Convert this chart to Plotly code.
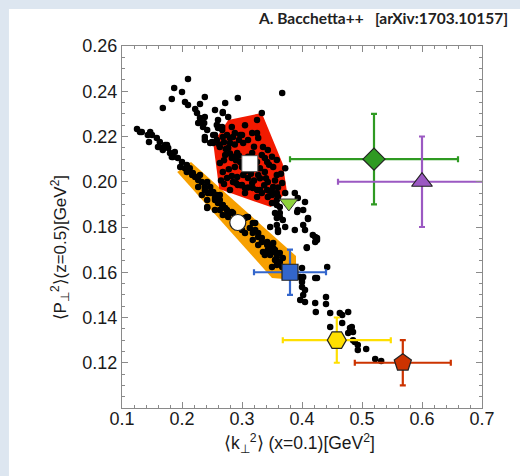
import plotly.graph_objects as go

# ---------------- data ----------------
scatter_x = [
    0.21, 0.187, 0.2, 0.183, 0.205, 0.21, 0.168, 0.238, 0.23, 0.222, 0.272, 0.293, 0.367, 0.255, 0.268,
    0.277, 0.23, 0.238, 0.227, 0.235, 0.26, 0.267, 0.26, 0.283, 0.275, 0.285, 0.297, 0.238, 0.25, 0.317,
    0.325, 0.23, 0.237, 0.242, 0.238, 0.247, 0.263, 0.225, 0.252,
    0.268, 0.258, 0.267, 0.255, 0.268, 0.252, 0.263, 0.28, 0.288, 0.3, 0.333, 0.327, 0.302, 0.277, 0.292,
    0.283, 0.272, 0.297, 0.288, 0.268, 0.263, 0.275, 0.292, 0.302, 0.31, 0.317, 0.327, 0.33, 0.338, 0.342,
    0.333, 0.343, 0.335, 0.358, 0.352, 0.343, 0.352, 0.358, 0.367, 0.372, 0.305, 0.318, 0.33, 0.325, 0.343,
    0.36, 0.35, 0.3, 0.285, 0.28, 0.317, 0.318, 0.308, 0.28, 0.325,
    0.293, 0.305, 0.325, 0.333, 0.342, 0.35, 0.358, 0.35, 0.363,
    0.358, 0.372, 0.388, 0.393, 0.405, 0.402, 0.392, 0.358, 0.363, 0.358, 0.368, 0.372, 0.388, 0.402, 0.405,
    0.41, 0.418, 0.425, 0.422, 0.408, 0.442, 0.36, 0.352, 0.355, 0.363, 0.368, 0.358, 0.372, 0.4, 0.402,
    0.425, 0.347, 0.393, 0.41, 0.422,
    0.227, 0.238, 0.247, 0.233, 0.242, 0.255, 0.263, 0.26, 0.268, 0.275, 0.268, 0.277, 0.285, 0.255, 0.242,
    0.305, 0.313, 0.322, 0.318, 0.327, 0.333, 0.342, 0.343, 0.352, 0.358, 0.355, 0.347, 0.363, 0.367, 0.35,
    0.335, 0.327, 0.318, 0.3, 0.305, 0.31, 0.358, 0.36, 0.355, 0.363,
    0.125, 0.133, 0.147, 0.15, 0.145, 0.158, 0.163, 0.16, 0.172, 0.168, 0.177, 0.18, 0.188, 0.185, 0.193,
    0.2, 0.197, 0.208, 0.213, 0.208, 0.218, 0.225, 0.23, 0.233, 0.242, 0.238, 0.247, 0.252, 0.243, 0.258,
    0.255, 0.263, 0.267, 0.272, 0.275, 0.283, 0.263, 0.308, 0.318, 0.322, 0.327, 0.333, 0.342, 0.347, 0.352,
    0.358, 0.338, 0.343, 0.242, 0.13, 0.143, 0.167, 0.175, 0.183, 0.205, 0.217, 0.222, 0.227, 0.25,
    0.388, 0.4, 0.397, 0.4, 0.4, 0.405, 0.402, 0.397, 0.405, 0.422, 0.44, 0.44, 0.423, 0.447, 0.463,
    0.477, 0.467, 0.467, 0.447, 0.48, 0.483, 0.485, 0.477, 0.485, 0.488, 0.493, 0.493, 0.507, 0.522, 0.532,
    0.408, 0.425, 0.422,
    0.258, 0.262, 0.27, 0.273, 0.28, 0.285, 0.29, 0.295, 0.3, 0.305, 0.31, 0.315, 0.32, 0.323, 0.33,
    0.337, 0.34, 0.345, 0.355, 0.36, 0.365, 0.27, 0.278, 0.283, 0.29, 0.298, 0.31, 0.265, 0.27, 0.345,
    0.35, 0.338, 0.32, 0.31, 0.295, 0.288, 0.325, 0.305,
]
scatter_y = [
    0.2454, 0.2414, 0.2397, 0.2366, 0.2352, 0.2339, 0.2326, 0.2375, 0.2344, 0.2322, 0.2348, 0.237, 0.2392, 0.2317, 0.2308,
    0.2286, 0.2282, 0.2286, 0.226, 0.2242, 0.2273, 0.2242, 0.2238, 0.2242, 0.2207, 0.2198, 0.2207, 0.2198, 0.2176, 0.2216,
    0.2273, 0.2264, 0.226, 0.2229, 0.2185, 0.2171, 0.2242, 0.2304, 0.2207,
    0.2304, 0.2251, 0.2229, 0.2207, 0.2198, 0.2171, 0.2154, 0.2193, 0.2216, 0.2207, 0.2304, 0.2193, 0.2171, 0.2149, 0.2127,
    0.2105, 0.2118, 0.2087, 0.2065, 0.2043, 0.2083, 0.2017, 0.2021, 0.203, 0.2017, 0.1994, 0.203, 0.206, 0.2043, 0.2087,
    0.2118, 0.214, 0.2154, 0.2096, 0.2065, 0.1999, 0.1977, 0.203, 0.1994, 0.206, 0.195, 0.1972, 0.1964, 0.1933, 0.1933,
    0.1933, 0.1955, 0.1986, 0.1999, 0.1964, 0.2127, 0.2087, 0.2052, 0.2171, 0.2087,
    0.1986, 0.1972, 0.1964, 0.195, 0.1964, 0.1941, 0.1919, 0.1906, 0.1888,
    0.195, 0.195, 0.195, 0.1928, 0.191, 0.1875, 0.1866, 0.1897, 0.1862, 0.184, 0.1831, 0.18, 0.1787, 0.1809, 0.1787,
    0.184, 0.1765, 0.1751, 0.1734, 0.1707, 0.1623, 0.1787, 0.1729, 0.1698, 0.1685, 0.1663, 0.1632, 0.1619, 0.1619, 0.1579,
    0.1575, 0.18, 0.1875, 0.1835, 0.1756,
    0.1977, 0.1964, 0.195, 0.1941, 0.1919, 0.1928, 0.1941, 0.1906, 0.1897, 0.1875, 0.1853, 0.1844, 0.1862, 0.1875, 0.1884,
    0.1773, 0.1796, 0.1818, 0.1773, 0.1756, 0.1734, 0.172, 0.1698, 0.1707, 0.1685, 0.1654, 0.1676, 0.1645, 0.1623, 0.1623,
    0.1689, 0.172, 0.1743, 0.1787, 0.184, 0.1844, 0.1809, 0.1778, 0.1862, 0.1844,
    0.2233, 0.222, 0.222, 0.2207, 0.2176, 0.2193, 0.2176, 0.2154, 0.2162, 0.214, 0.2149, 0.2127, 0.2131, 0.2109, 0.2105,
    0.2087, 0.2065, 0.2074, 0.206, 0.2043, 0.2039, 0.2021, 0.203, 0.1999, 0.1999, 0.1977, 0.1977, 0.1955, 0.195, 0.1941,
    0.1919, 0.1919, 0.1897, 0.1884, 0.1853, 0.1866, 0.1875, 0.1844, 0.1818, 0.1787, 0.1773, 0.1751, 0.1734, 0.1711, 0.1689,
    0.1667, 0.1676, 0.1689, 0.1888, 0.222, 0.2207, 0.2149, 0.2162, 0.2109, 0.206, 0.203, 0.2021, 0.2008, 0.195,
    0.1601, 0.157, 0.1579, 0.1557, 0.1535, 0.1522, 0.15, 0.1477, 0.1468, 0.1464, 0.1491, 0.146, 0.1424, 0.142, 0.142,
    0.1424, 0.1411, 0.1376, 0.1358, 0.1354, 0.1358, 0.1336, 0.1331, 0.13, 0.1292, 0.1278, 0.1256, 0.1261, 0.1217, 0.1208,
    0.1711, 0.1743, 0.1575,
    0.2185, 0.2165, 0.2175, 0.2145, 0.2125, 0.211, 0.2095, 0.2115, 0.2065, 0.2045, 0.211, 0.2035, 0.2005, 0.206, 0.2015,
    0.1985, 0.2015, 0.196, 0.2005, 0.1975, 0.2035, 0.2095, 0.2055, 0.2025, 0.1995, 0.1985, 0.1975, 0.2005, 0.199, 0.2075,
    0.211, 0.2105, 0.2155, 0.2185, 0.2185, 0.2165, 0.2215, 0.225,
]

red_region_x = [0.252, 0.277, 0.333, 0.368, 0.375, 0.348, 0.262]
red_region_y = [0.2171, 0.2273, 0.2304, 0.2078, 0.1955, 0.1888, 0.1968]

orange_band_x = [0.192, 0.215, 0.39, 0.39, 0.37, 0.35]
orange_band_y = [0.2043, 0.2087, 0.1672, 0.161, 0.157, 0.1575]

# central values of fits without error bars
white_square = (0.313, 0.208)
white_circle = (0.293, 0.182)
green_tri = (0.378, 0.1906)

# points with error bars: x, y, dx, dy
pts_names = ["diamond", "triangle", "square", "hexagon", "pentagon"]
pts_x = [0.52, 0.60, 0.38, 0.458, 0.568]
pts_y = [0.21, 0.20, 0.16, 0.13, 0.12]
pts_dx = [0.14, 0.14, 0.06, 0.09, 0.08]
pts_dy = [0.02, 0.02, 0.01, 0.01, 0.01]
pts_symbols = ["diamond", "triangle-up", "square", "hexagon2", "pentagon"]
pts_colors = ["#2f9a22", "#9b59c2", "#3366cc", "#ffdf00", "#cc3300"]
pts_sizes = [17, 18, 16, 19, 18]

x_ticks = [0.1, 0.2, 0.3, 0.4, 0.5, 0.6, 0.7]
y_ticks = [0.12, 0.14, 0.16, 0.18, 0.20, 0.22, 0.24, 0.26]

# ---------------- figure ----------------
fig = go.Figure()

fig.add_trace(go.Scatter(x=orange_band_x + [orange_band_x[0]], y=orange_band_y + [orange_band_y[0]],
                         fill="toself", fillcolor="#f7a000", mode="none", hoverinfo="skip"))
fig.add_trace(go.Scatter(x=red_region_x + [red_region_x[0]], y=red_region_y + [red_region_y[0]],
                         fill="toself", fillcolor="#f21a00", mode="none", hoverinfo="skip"))

fig.add_trace(go.Scatter(x=scatter_x, y=scatter_y, mode="markers",
                         marker=dict(color="black", size=6.5, line=dict(width=0))))

fig.add_trace(go.Scatter(x=[white_square[0]], y=[white_square[1]], mode="markers",
                         marker=dict(symbol="square", size=16, color="white",
                                     line=dict(color="#555555", width=1))))
fig.add_trace(go.Scatter(x=[white_circle[0]], y=[white_circle[1]], mode="markers",
                         marker=dict(symbol="circle", size=16, color="white",
                                     line=dict(color="#222222", width=1.2))))
fig.add_trace(go.Scatter(x=[green_tri[0]], y=[green_tri[1]], mode="markers",
                         marker=dict(symbol="triangle-down", size=16, color="#8ed23c",
                                     line=dict(color="#333333", width=1))))

for i in range(len(pts_x)):
    fig.add_trace(go.Scatter(
        x=[pts_x[i]], y=[pts_y[i]], mode="markers",
        error_x=dict(type="data", array=[pts_dx[i]], color=pts_colors[i], thickness=2.2, width=3),
        error_y=dict(type="data", array=[pts_dy[i]], color=pts_colors[i], thickness=2.2, width=3),
        marker=dict(symbol=pts_symbols[i], size=pts_sizes[i], color=pts_colors[i],
                    line=dict(color="#222222", width=1.2)),
        name=pts_names[i]))

frame_color = "#8a8a8a"
label_family = "Liberation Sans, Arial, sans-serif"
tick_font = dict(family=label_family, size=18, color="#1a1a1a")

fig.update_xaxes(range=[0.1, 0.7], tickvals=x_ticks, ticktext=[f"{v:.1f}" for v in x_ticks],
                 ticks="inside", ticklen=6, tickwidth=1, tickcolor=frame_color,
                 showline=True, linecolor=frame_color, linewidth=1.3, mirror="allticks",
                 showgrid=False, zeroline=False, tickfont=tick_font, ticklabelstandoff=-6,
                 minor=dict(ticks="inside", dtick=0.02, tick0=0.1, ticklen=3, tickcolor=frame_color, showgrid=False))
fig.update_yaxes(range=[0.10, 0.26], tickvals=y_ticks, ticktext=[f"{v:.2f}" for v in y_ticks],
                 ticks="inside", ticklen=6, tickwidth=1, tickcolor=frame_color,
                 showline=True, linecolor=frame_color, linewidth=1.3, mirror="allticks",
                 showgrid=False, zeroline=False, tickfont=tick_font,
                 minor=dict(ticks="inside", dtick=0.005, tick0=0.1, ticklen=3, tickcolor=frame_color, showgrid=False))

fig.add_shape(type="rect", xref="paper", yref="paper", x0=-0.314, x1=1.2, y0=-0.25, y1=1.102,
              fillcolor="white", line=dict(width=0), layer="below")

# axis titles
fig.add_annotation(text="⟨k<sub>⊥</sub><sup>2</sup>⟩ (x=0.1)[GeV<sup>2</sup>]", xref="paper", yref="paper",
                   x=0.494, y=-0.097, xanchor="center", yanchor="middle", showarrow=False,
                   font=dict(family=label_family, size=17.5, color="#1a1a1a"))
fig.add_annotation(text="⟨P<sub>⊥</sub><sup>2</sup>⟩(z=0.5)[GeV<sup>2</sup>]", xref="paper", yref="paper",
                   x=-0.172, y=0.441, xanchor="center", yanchor="middle", showarrow=False, textangle=-90,
                   font=dict(family=label_family, size=17, color="#1a1a1a"))

fig.add_annotation(text="<b>A. Bacchetta++   [arXiv:1703.10157]</b>", xref="paper", yref="paper",
                   x=1.078, y=1.077, xanchor="right", yanchor="middle", showarrow=False,
                   font=dict(family="Lato, Liberation Sans, sans-serif", size=15.5, color="#222222"))

fig.update_layout(width=520, height=476, showlegend=False,
                  margin=dict(l=122, r=38, t=46, b=68),
                  paper_bgcolor="#dde6f0", plot_bgcolor="rgba(0,0,0,0)")

fig.write_html("out.html", config={"displayModeBar": False},
               post_script="document.body.style.margin='0';document.body.style.overflow='hidden';")
